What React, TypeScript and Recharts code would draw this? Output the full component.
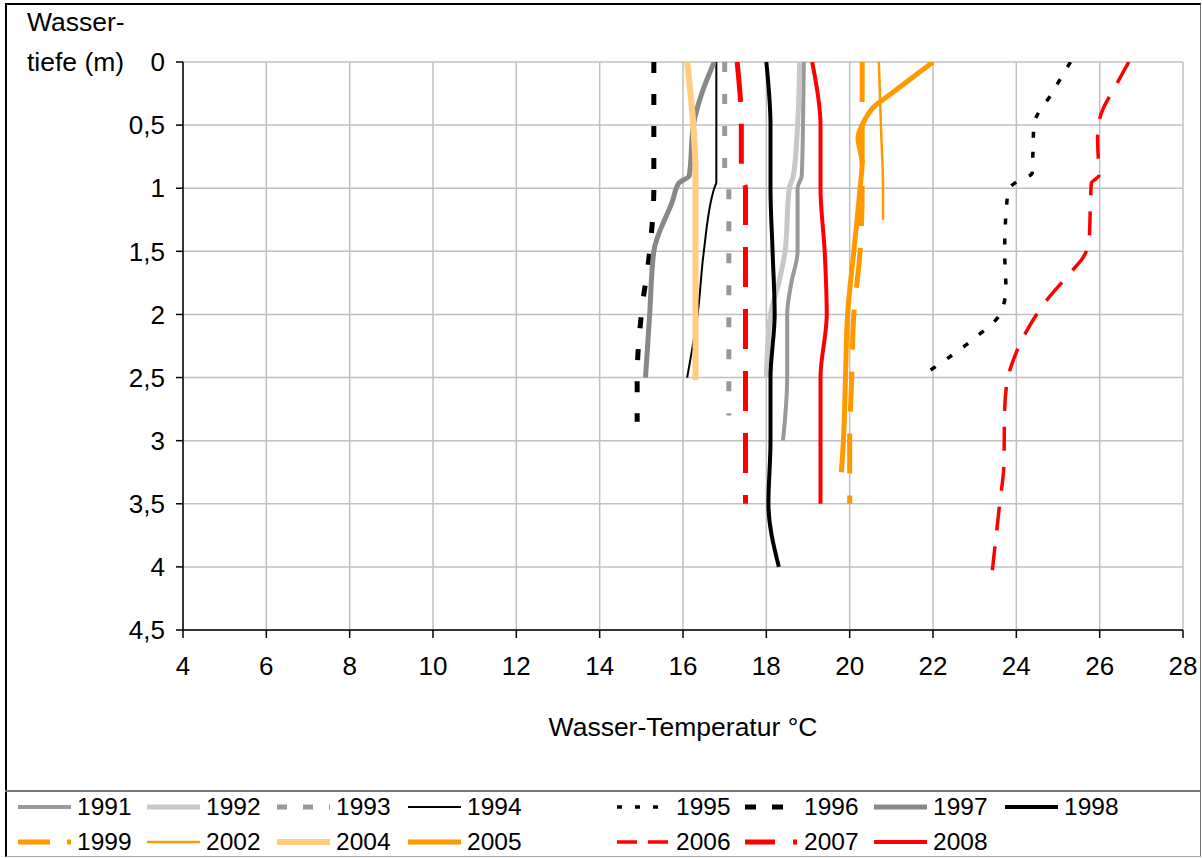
import React from 'react';
import { LineChart, Line, XAxis, YAxis, CartesianGrid } from 'recharts';

// Depth profiles: d = water depth (m), t = water temperature (°C)
const s1991 = [
  { d: 0, t: 18.9 }, { d: 0.5, t: 18.88 }, { d: 0.9, t: 18.85 }, { d: 1.0, t: 18.75 },
  { d: 1.5, t: 18.75 }, { d: 1.75, t: 18.6 }, { d: 2.0, t: 18.5 }, { d: 2.5, t: 18.5 }, { d: 3.0, t: 18.4 },
];
const s1992 = [
  { d: 0, t: 18.8 }, { d: 0.5, t: 18.75 }, { d: 0.9, t: 18.65 }, { d: 1.0, t: 18.55 },
  { d: 1.5, t: 18.45 }, { d: 1.75, t: 18.3 }, { d: 2.0, t: 18.1 }, { d: 2.5, t: 18.0 },
];
const s1993 = [
  { d: 0, t: 17.0 }, { d: 0.9, t: 17.0 }, { d: 1.0, t: 17.1 }, { d: 2.8, t: 17.1 },
];
const s1994 = [
  { d: 0, t: 16.8 }, { d: 0.95, t: 16.8 }, { d: 1.0, t: 16.75 }, { d: 1.5, t: 16.5 },
  { d: 2.0, t: 16.35 }, { d: 2.5, t: 16.1 },
];
const s1995 = [
  { d: 0, t: 25.3 }, { d: 0.25, t: 24.85 }, { d: 0.5, t: 24.42 }, { d: 0.7, t: 24.4 },
  { d: 0.88, t: 24.38 }, { d: 0.95, t: 24.0 }, { d: 1.02, t: 23.8 }, { d: 1.5, t: 23.72 },
  { d: 1.8, t: 23.75 }, { d: 2.0, t: 23.6 }, { d: 2.2, t: 22.95 }, { d: 2.45, t: 21.9 },
];
const s1996 = [
  { d: 0, t: 15.3 }, { d: 1.0, t: 15.3 }, { d: 1.5, t: 15.2 }, { d: 2.0, t: 15.0 },
  { d: 2.5, t: 14.9 }, { d: 2.85, t: 14.9 },
];
const s1997 = [
  { d: 0, t: 16.75 }, { d: 0.25, t: 16.45 }, { d: 0.5, t: 16.25 }, { d: 0.9, t: 16.15 }, { d: 0.96, t: 15.9 },
  { d: 1.1, t: 15.75 }, { d: 1.5, t: 15.3 }, { d: 2.0, t: 15.2 }, { d: 2.5, t: 15.1 },
];
const s1998 = [
  { d: 0, t: 18.0 }, { d: 0.5, t: 18.1 }, { d: 1.0, t: 18.1 }, { d: 1.5, t: 18.15 },
  { d: 2.0, t: 18.2 }, { d: 2.5, t: 18.1 }, { d: 3.0, t: 18.1 }, { d: 3.5, t: 18.05 }, { d: 4.0, t: 18.3 },
];
const s1999 = [
  { d: 0, t: 20.3 }, { d: 0.5, t: 20.3 }, { d: 1.0, t: 20.3 }, { d: 1.5, t: 20.25 },
  { d: 2.0, t: 20.1 }, { d: 2.5, t: 20.05 }, { d: 3.0, t: 20.0 }, { d: 3.5, t: 20.0 },
];
const s2002 = [
  { d: 0, t: 20.7 }, { d: 0.5, t: 20.75 }, { d: 1.0, t: 20.8 }, { d: 1.25, t: 20.8 },
];
const s2004 = [
  { d: 0, t: 16.1 }, { d: 0.9, t: 16.3 }, { d: 2.52, t: 16.3 },
];
const s2005 = [
  { d: 0, t: 22.0 }, { d: 0.25, t: 21.0 }, { d: 0.35, t: 20.6 }, { d: 0.5, t: 20.3 },
  { d: 0.6, t: 20.2 }, { d: 0.8, t: 20.3 }, { d: 1.0, t: 20.25 }, { d: 1.5, t: 20.1 },
  { d: 2.0, t: 19.95 }, { d: 2.5, t: 19.9 }, { d: 3.0, t: 19.85 }, { d: 3.25, t: 19.8 },
];
const s2006 = [
  { d: 0, t: 26.7 }, { d: 0.15, t: 26.45 }, { d: 0.45, t: 26.0 }, { d: 0.6, t: 25.95 },
  { d: 0.9, t: 25.98 }, { d: 0.96, t: 25.8 }, { d: 1.1, t: 25.78 }, { d: 1.4, t: 25.75 },
  { d: 1.55, t: 25.6 }, { d: 1.65, t: 25.35 }, { d: 1.9, t: 24.7 }, { d: 2.1, t: 24.3 },
  { d: 2.3, t: 24.0 }, { d: 2.5, t: 23.8 }, { d: 2.75, t: 23.72 }, { d: 3.2, t: 23.7 },
  { d: 3.5, t: 23.6 }, { d: 4.1, t: 23.4 },
];
const s2007 = [
  { d: 0, t: 17.3 }, { d: 0.5, t: 17.4 }, { d: 0.9, t: 17.4 }, { d: 1.0, t: 17.5 }, { d: 3.5, t: 17.5 },
];
const s2008 = [
  { d: 0, t: 19.1 }, { d: 0.5, t: 19.3 }, { d: 1.0, t: 19.3 }, { d: 1.5, t: 19.4 },
  { d: 2.0, t: 19.45 }, { d: 2.5, t: 19.3 }, { d: 3.0, t: 19.3 }, { d: 3.5, t: 19.3 },
];

const xTicks = [4, 6, 8, 10, 12, 14, 16, 18, 20, 22, 24, 26, 28];
const yTicks = [0, 0.5, 1, 1.5, 2, 2.5, 3, 3.5, 4, 4.5];

type Series = {
  name: string;
  data: { d: number; t: number }[];
  color: string;
  width: number;
  dash?: string;
  legendDash?: string;
};

const series: Series[] = [
  { name: '1991', data: s1991, color: '#999999', width: 4 },
  { name: '1992', data: s1992, color: '#c8c8c8', width: 5 },
  { name: '1993', data: s1993, color: '#999999', width: 5, dash: '10 22', legendDash: '10 16' },
  { name: '1994', data: s1994, color: '#000000', width: 2 },
  { name: '1995', data: s1995, color: '#000000', width: 3.5, dash: '6 14', legendDash: '5 13' },
  { name: '1996', data: s1996, color: '#000000', width: 5, dash: '11 21', legendDash: '11 16' },
  { name: '1997', data: s1997, color: '#888888', width: 5 },
  { name: '1998', data: s1998, color: '#000000', width: 4 },
  { name: '1999', data: s1999, color: '#ff9900', width: 5, dash: '40 22', legendDash: '32 17 4 20' },
  { name: '2002', data: s2002, color: '#ff9900', width: 2.5 },
  { name: '2004', data: s2004, color: '#ffcc80', width: 6 },
  { name: '2005', data: s2005, color: '#ff9900', width: 5 },
  { name: '2006', data: s2006, color: '#ff0000', width: 3.5, dash: '24 16', legendDash: '20 11' },
  { name: '2007', data: s2007, color: '#ff0000', width: 5, dash: '40 22', legendDash: '30 18 4 20' },
  { name: '2008', data: s2008, color: '#ff0000', width: 4 },
];

const legendCols = [18, 147, 277, 408, 617, 745, 874, 1005];
const legendRows = [807, 842];

const FONT = 'Liberation Sans, Arial, sans-serif';

const fmt = (v: number) => String(v).replace('.', ',');

export default function App() {
  return (
    <div style={{ position: 'absolute', left: 0, top: 0, width: 1202, height: 858, background: '#fff', fontFamily: FONT }}>
      <div
        style={{
          position: 'absolute', left: 5, top: 3, width: 1196, height: 854,
          borderLeft: '2px solid #000', borderTop: '2px solid #000',
          borderRight: '1.5px solid #777', borderBottom: '1.5px solid #aaa',
          boxSizing: 'border-box',
        }}
      />
      <div style={{ position: 'absolute', left: 0, top: 0 }}>
        <LineChart
          width={1202}
          height={790}
          layout="vertical"
          margin={{ top: 62, right: 19, bottom: 50, left: 0 }}
        >
          <CartesianGrid stroke="#c0c0c0" strokeWidth={1.5} />
          <XAxis
            type="number"
            dataKey="t"
            domain={[4, 28]}
            ticks={xTicks}
            interval={0}
            height={110}
            tickSize={8}
            tickMargin={19}
            axisLine={{ stroke: '#000', strokeWidth: 1.5 }}
            tickLine={{ stroke: '#000', strokeWidth: 1.5 }}
            tick={{ fill: '#000', fontSize: 26, fontFamily: FONT }}
            allowDataOverflow
            label={{ value: 'Wasser-Temperatur °C', position: 'insideBottom', offset: 4, fill: '#000', fontSize: 26.5, fontFamily: FONT }}
          />
          <YAxis
            type="number"
            dataKey="d"
            domain={[0, 4.5]}
            ticks={yTicks}
            interval={0}
            width={183}
            tickSize={7}
            tickMargin={11}
            tickFormatter={fmt}
            axisLine={{ stroke: '#000', strokeWidth: 1.5 }}
            tickLine={{ stroke: '#000', strokeWidth: 1.5 }}
            tick={{ fill: '#000', fontSize: 26, fontFamily: FONT }}
            allowDataOverflow
          />
          {series.map((s) => (
            <Line
              key={s.name}
              name={s.name}
              data={s.data}
              dataKey="t"
              type="monotone"
              stroke={s.color}
              strokeWidth={s.width}
              strokeDasharray={s.dash}
              dot={false}
              activeDot={false}
              isAnimationActive={false}
            />
          ))}
        </LineChart>
      </div>
      <div style={{ position: 'absolute', left: 27, top: 7, fontSize: 26.5, lineHeight: '30px', color: '#000' }}>Wasser-</div>
      <div style={{ position: 'absolute', left: 27, top: 47, fontSize: 26.5, lineHeight: '30px', color: '#000' }}>tiefe (m)</div>
      <div
        style={{
          position: 'absolute', left: 5, top: 790, width: 1196, height: 67,
          borderTop: '2px solid #777', boxSizing: 'border-box',
        }}
      />
      {series.map((s, i) => {
        const x = legendCols[i % 8];
        const y = legendRows[Math.floor(i / 8)];
        return (
          <div key={s.name} style={{ position: 'absolute', left: x, top: y - 16, height: 32, width: 120 }}>
            <svg width={56} height={32} style={{ position: 'absolute', left: 0, top: 0 }}>
              <line
                x1={0}
                x2={53}
                y1={16}
                y2={16}
                stroke={s.color}
                strokeWidth={s.width}
                strokeDasharray={s.legendDash}
              />
            </svg>
            <span style={{ position: 'absolute', left: 59, top: 1, fontSize: 24.5, lineHeight: '30px', color: '#000' }}>{s.name}</span>
          </div>
        );
      })}
    </div>
  );
}
